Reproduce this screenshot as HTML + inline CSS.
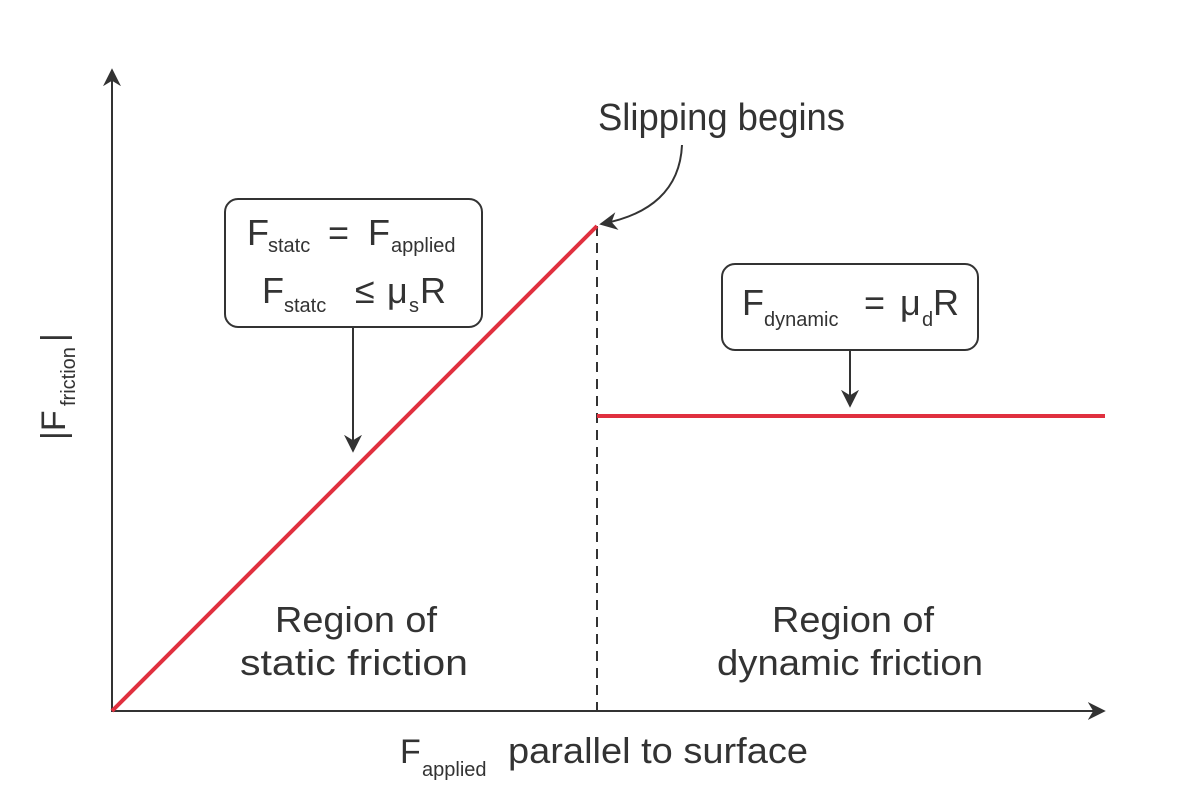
<!DOCTYPE html>
<html><head><style>html,body{margin:0;padding:0;background:#fff}svg{display:block}</style></head>
<body>
<svg width="1200" height="800" viewBox="0 0 1200 800" xmlns="http://www.w3.org/2000/svg" font-family="Liberation Sans, sans-serif" fill="#333">
<defs>
<marker id="ah2" viewBox="0 0 10 10" refX="9" refY="5" markerWidth="18" markerHeight="18" markerUnits="userSpaceOnUse" orient="auto">
<path d="M0,0 L10,5 L0,10 L3,5 z" fill="#333"/></marker>
</defs>
<line x1="112" y1="711" x2="112" y2="70" stroke="#333" stroke-width="2" marker-end="url(#ah2)"/>
<line x1="111" y1="711" x2="1104" y2="711" stroke="#333" stroke-width="2" marker-end="url(#ah2)"/>
<line x1="597" y1="226" x2="597" y2="711" stroke="#333" stroke-width="2" stroke-dasharray="10,7"/>
<line x1="112" y1="711" x2="597" y2="226" stroke="#e0303f" stroke-width="4"/>
<line x1="597" y1="416" x2="1105" y2="416" stroke="#e0303f" stroke-width="4"/>
<rect x="225" y="199" width="257" height="128" rx="13" fill="#fff" stroke="#333" stroke-width="2"/>
<rect x="722" y="264" width="256" height="86" rx="13" fill="#fff" stroke="#333" stroke-width="2"/>
<line x1="353" y1="328" x2="353" y2="451" stroke="#333" stroke-width="2" marker-end="url(#ah2)"/>
<line x1="850" y1="351" x2="850" y2="406" stroke="#333" stroke-width="2" marker-end="url(#ah2)"/>
<path d="M682,145 C680,190 650,215 601,224" fill="none" stroke="#333" stroke-width="2" marker-end="url(#ah2)"/>
<text x="598" y="130" font-size="38" textLength="247" lengthAdjust="spacingAndGlyphs">Slipping begins</text>
<g font-size="36">
<text x="247" y="245">F</text><text x="268" y="252" font-size="20">statc</text>
<text x="328" y="245">=</text>
<text x="368" y="245">F</text><text x="391" y="252" font-size="20">applied</text>
<text x="262" y="303">F</text><text x="284" y="312" font-size="20">statc</text>
<text x="355" y="303">≤</text>
<text x="387" y="303">μ</text><text x="409" y="312" font-size="20">s</text>
<text x="420" y="303">R</text>
<text x="742" y="315">F</text><text x="764" y="326" font-size="20">dynamic</text>
<text x="864" y="315">=</text>
<text x="900" y="315">μ</text><text x="922" y="326" font-size="20">d</text>
<text x="933" y="315">R</text>
</g>
<g font-size="36">
<text x="275" y="632" textLength="162" lengthAdjust="spacingAndGlyphs">Region of</text>
<text x="240" y="675" textLength="228" lengthAdjust="spacingAndGlyphs">static friction</text>
<text x="772" y="632" textLength="162" lengthAdjust="spacingAndGlyphs">Region of</text>
<text x="717" y="675" textLength="266" lengthAdjust="spacingAndGlyphs">dynamic friction</text>
</g>
<text x="400" y="763" font-size="34">F</text>
<text x="422" y="776" font-size="20">applied</text>
<text x="508" y="763" font-size="36" textLength="300" lengthAdjust="spacingAndGlyphs">parallel to surface</text>
<g transform="translate(65,440) rotate(-90)">
<text x="0" y="0" font-size="34">|F</text>
<text x="34" y="10" font-size="20">friction</text>
<text x="98" y="0" font-size="34">|</text>
</g>
</svg>
</body></html>
